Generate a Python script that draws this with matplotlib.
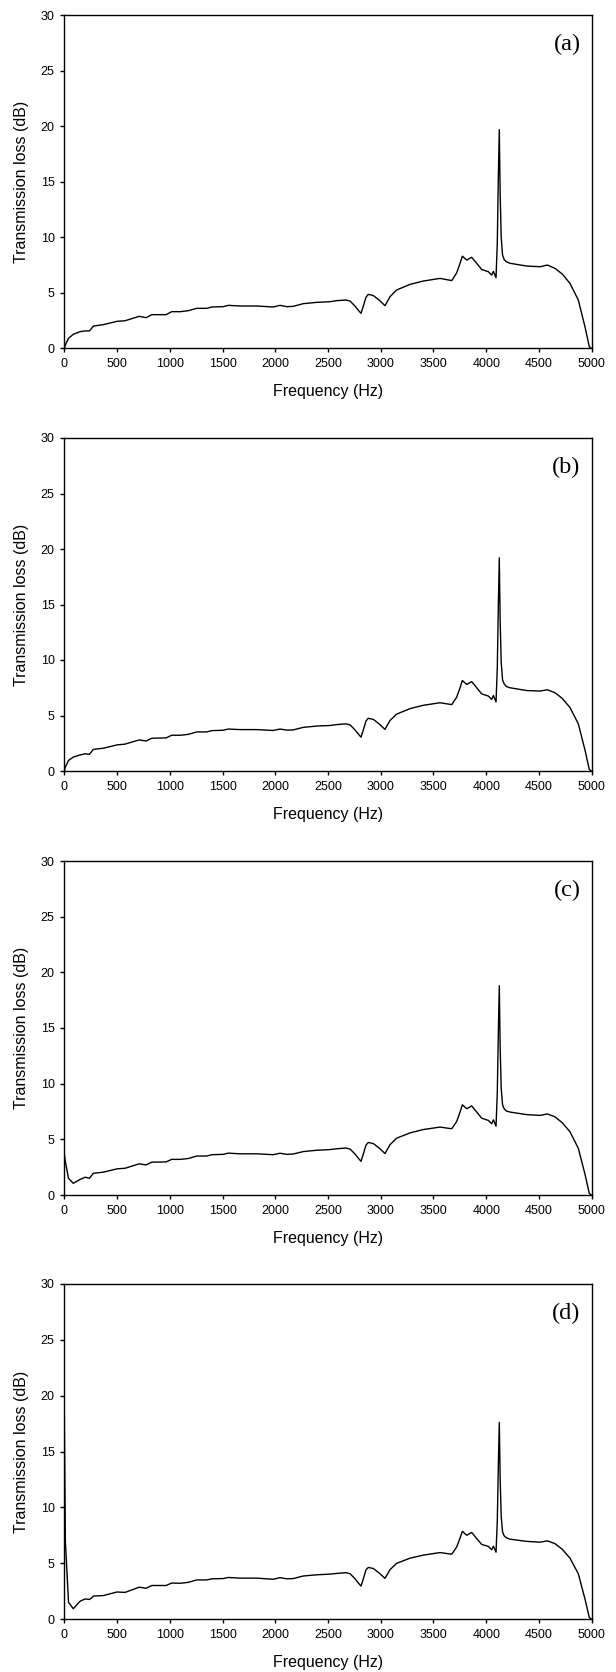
import matplotlib
matplotlib.use("Agg")
import matplotlib.pyplot as plt

# shared frequency grid (Hz)
freq = [0, 10, 40, 85, 150, 200, 237, 255, 275, 370,
        500, 575, 710, 775, 830, 965, 1018, 1100, 1176, 1255,
        1350, 1400, 1505, 1555, 1665, 1825, 1980, 2045, 2110, 2170,
        2265, 2395, 2520, 2580, 2670, 2710, 2756, 2790, 2813, 2835,
        2860, 2882, 2930, 2990, 3040, 3088, 3150, 3278, 3404, 3562,
        3673, 3720, 3750, 3774, 3815, 3862, 3910, 3957, 4020, 4052,
        4068, 4093, 4105, 4115, 4124, 4132, 4142, 4155, 4170, 4190,
        4225, 4384, 4510, 4580, 4652, 4720, 4794, 4873, 4936, 4977,
        4995]

tl_a = [0, 0.3, 0.9, 1.26, 1.5, 1.57, 1.56, 1.75, 2.0, 2.13,
        2.43, 2.48, 2.88, 2.76, 3.03, 3.03, 3.3, 3.3, 3.39, 3.6,
        3.6, 3.72, 3.75, 3.87, 3.81, 3.81, 3.72, 3.87, 3.75, 3.78,
        4.02, 4.14, 4.2, 4.29, 4.35, 4.25, 3.8, 3.4, 3.15, 3.8,
        4.6, 4.86, 4.75, 4.3, 3.84, 4.65, 5.25, 5.76, 6.06, 6.3,
        6.1, 6.8, 7.6, 8.3, 7.95, 8.2, 7.65, 7.1, 6.9, 6.6,
        6.93, 6.36, 9.5, 15.5, 19.7, 14.0, 10.0, 8.4, 8.0, 7.8,
        7.66, 7.41, 7.35, 7.5, 7.2, 6.7, 5.85, 4.35, 1.95, 0.15,
        0]

tl_b = [0, 0.35, 0.95, 1.25, 1.45, 1.55, 1.5, 1.7, 1.95, 2.05,
        2.35, 2.42, 2.8, 2.7, 2.95, 2.98, 3.22, 3.22, 3.3, 3.52,
        3.52, 3.64, 3.67, 3.78, 3.73, 3.73, 3.65, 3.78, 3.68, 3.7,
        3.93, 4.05, 4.1, 4.18, 4.25, 4.15, 3.7, 3.3, 3.05, 3.7,
        4.5, 4.75, 4.65, 4.2, 3.75, 4.55, 5.12, 5.62, 5.92, 6.15,
        5.98, 6.65, 7.45, 8.15, 7.8, 8.05, 7.5, 6.95, 6.75, 6.45,
        6.8, 6.22, 9.3, 15.0, 19.2, 13.6, 9.8, 8.2, 7.85, 7.62,
        7.5, 7.25, 7.2, 7.32, 7.05, 6.55, 5.72, 4.25, 1.9, 0.15,
        0]

tl_c = [3.7, 3.0, 1.5, 1.05, 1.4, 1.6, 1.5, 1.7, 1.95, 2.05,
        2.35, 2.4, 2.8, 2.7, 2.95, 2.97, 3.2, 3.2, 3.28, 3.5,
        3.5, 3.62, 3.65, 3.76, 3.7, 3.7, 3.62, 3.75, 3.65, 3.68,
        3.9, 4.02, 4.08, 4.15, 4.22, 4.12, 3.68, 3.28, 3.02, 3.68,
        4.48, 4.72, 4.62, 4.18, 3.72, 4.52, 5.1, 5.58, 5.88, 6.1,
        5.95, 6.6, 7.4, 8.1, 7.75, 8.0, 7.45, 6.9, 6.7, 6.4,
        6.75, 6.18, 9.2, 14.7, 18.8, 13.3, 9.6, 8.1, 7.75, 7.55,
        7.45, 7.22, 7.15, 7.28, 7.02, 6.5, 5.68, 4.2, 1.88, 0.15,
        0]

tl_d = [18.5, 7.0, 1.5, 0.92, 1.6, 1.8, 1.75, 1.85, 2.05, 2.1,
        2.42, 2.38, 2.85, 2.75, 3.0, 3.0, 3.22, 3.2, 3.28, 3.5,
        3.5, 3.6, 3.62, 3.72, 3.66, 3.66, 3.56, 3.7, 3.6, 3.62,
        3.85, 3.96, 4.02, 4.08, 4.15, 4.05, 3.6, 3.2, 2.95, 3.6,
        4.4, 4.62, 4.52, 4.08, 3.64, 4.42, 4.98, 5.45, 5.72, 5.95,
        5.8, 6.45, 7.2, 7.85, 7.5, 7.75, 7.2, 6.68, 6.5, 6.2,
        6.52, 5.98, 8.8, 13.8, 17.6, 12.6, 9.2, 7.8, 7.45, 7.28,
        7.15, 6.95, 6.88, 7.0, 6.75, 6.25, 5.45, 4.05, 1.8, 0.15,
        0]

panel_labels = ["(a)", "(b)", "(c)", "(d)"]
series = [tl_a, tl_b, tl_c, tl_d]
xticks = [0, 500, 1000, 1500, 2000, 2500, 3000, 3500, 4000, 4500, 5000]
yticks = [0, 5, 10, 15, 20, 25, 30]

plt.rcParams['font.family'] = ['Liberation Sans', 'DejaVu Sans']

fig = plt.figure(figsize=(6.16, 16.72), dpi=100)
W, H = 616.0, 1672.0
left_px, right_px = 64.3, 591.7
boxes = [(15.3, 348.3), (438.0, 771.0), (861.0, 1195.0), (1284.0, 1619.0)]

for (top, bot), tl, lab in zip(boxes, series, panel_labels):
    ax = fig.add_axes([left_px / W, 1 - bot / H, (right_px - left_px) / W, (bot - top) / H])
    ax.plot(freq, tl, color='black', lw=1.0)
    ax.set_xlim(0, 5000)
    ax.set_ylim(0, 30)
    ax.set_xticks(xticks)
    ax.set_yticks(yticks)
    ax.tick_params(direction='out', length=3, width=1, labelsize=9, pad=4, colors='black')
    for s in ax.spines.values():
        s.set_linewidth(1.0)
        s.set_color('black')
    ax.set_xlabel('Frequency (Hz)', fontsize=11.5, labelpad=10)
    ax.set_ylabel('Transmission loss (dB)', fontsize=11.5)
    ax.yaxis.set_label_coords(-0.066, 0.5)
    ax.text(0.979, 0.913, lab, transform=ax.transAxes, ha='right', va='center',
            fontsize=17.5, family=['Liberation Serif', 'DejaVu Serif'])

fig.savefig('out.png', dpi=100)
